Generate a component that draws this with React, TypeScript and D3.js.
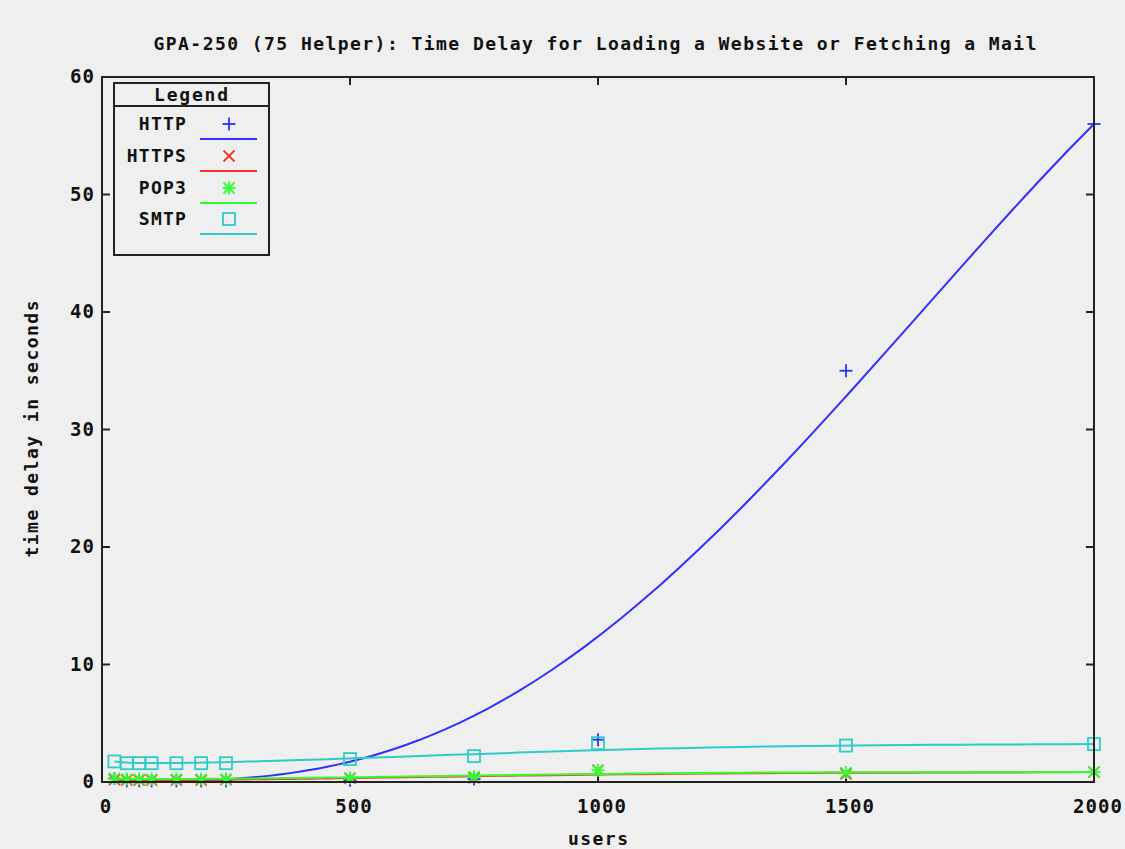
import React from "react";
import * as d3 from "d3";

const users = [25, 50, 75, 100, 150, 200, 250, 500, 750, 1000, 1500, 2000];
const httpDelay = [0.3, 0.1, 0.1, 0.1, 0.1, 0.1, 0.1, 0.15, 0.25, 3.6, 35, 56];
const httpsDelay = [0.2, 0.15, 0.15, 0.15, 0.15, 0.15, 0.2, 0.3, 0.35, 1.0, 0.7, 0.85];
const pop3Delay = [0.3, 0.25, 0.25, 0.25, 0.25, 0.25, 0.25, 0.35, 0.45, 1.0, 0.8, 0.85];
const smtpDelay = [1.75, 1.6, 1.6, 1.6, 1.6, 1.6, 1.6, 1.95, 2.2, 3.3, 3.1, 3.23];

const xTicks = [0, 500, 1000, 1500, 2000];
const yTicks = [0, 10, 20, 30, 40, 50, 60];
const seriesNames = ["HTTP", "HTTPS", "POP3", "SMTP"];
const seriesValues = [httpDelay, httpsDelay, pop3Delay, smtpDelay];
const seriesColors = ["#2f2fff", "#ff2f2f", "#2fff2f", "#2fcaca"];
const seriesSymbols = ["plus", "cross", "star", "square"];

const W = 1125;
const H = 849;
const left = 102;
const right = 1094;
const top = 77;
const bottom = 782;
const FONT = "'DejaVu Sans Mono', monospace";

const x = d3.scaleLinear().domain([0, 2000]).range([left, right]);
const y = d3.scaleLinear().domain([0, 60]).range([bottom, top]);

// gnuplot "smooth bezier": Bernstein polynomial over all data points
function bezier(xs: number[], ys: number[], samples = 100): [number, number][] {
  const n = xs.length - 1;
  const binom: number[] = [];
  for (let i = 0; i <= n; i++) {
    let c = 1;
    for (let k = 1; k <= i; k++) c = (c * (n - k + 1)) / k;
    binom.push(c);
  }
  const out: [number, number][] = [];
  for (let s = 0; s < samples; s++) {
    const t = s / (samples - 1);
    let bx = 0;
    let by = 0;
    for (let i = 0; i <= n; i++) {
      const w = binom[i] * Math.pow(t, i) * Math.pow(1 - t, n - i);
      bx += w * xs[i];
      by += w * ys[i];
    }
    out.push([bx, by]);
  }
  return out;
}

function Symbol({ kind, cx, cy, color }: { kind: string; cx: number; cy: number; color: string }) {
  const sw = 1.8;
  const a = 6.5;
  const b = 5.5;
  if (kind === "plus") {
    return (
      <g stroke={color} strokeWidth={sw}>
        <line x1={cx - a} y1={cy} x2={cx + a} y2={cy} />
        <line x1={cx} y1={cy - a} x2={cx} y2={cy + a} />
      </g>
    );
  }
  if (kind === "cross") {
    return (
      <g stroke={color} strokeWidth={sw}>
        <line x1={cx - b} y1={cy - b} x2={cx + b} y2={cy + b} />
        <line x1={cx - b} y1={cy + b} x2={cx + b} y2={cy - b} />
      </g>
    );
  }
  if (kind === "star") {
    return (
      <g stroke={color} strokeWidth={sw}>
        <line x1={cx - a} y1={cy} x2={cx + a} y2={cy} />
        <line x1={cx} y1={cy - a} x2={cx} y2={cy + a} />
        <line x1={cx - b} y1={cy - b} x2={cx + b} y2={cy + b} />
        <line x1={cx - b} y1={cy + b} x2={cx + b} y2={cy - b} />
      </g>
    );
  }
  return (
    <rect x={cx - 6} y={cy - 6} width={12} height={12} fill="none" stroke={color} strokeWidth={sw} />
  );
}

export default function App() {
  const line = d3
    .line<[number, number]>()
    .x((d) => x(d[0]))
    .y((d) => y(d[1]));

  const tickLen = 8;
  const legendRows = [124, 156, 188, 219];

  return (
    <svg
      width={W}
      height={H}
      style={{ position: "absolute", left: 0, top: 0, background: "#efefef" }}
      fontFamily={FONT}
      fontWeight="bold"
    >
      <rect x={0} y={0} width={W} height={H} fill="#efefef" />

      {/* title */}
      <text
        x={595}
        y={50}
        textAnchor="middle"
        fontSize={18}
        textLength={883}
        lengthAdjust="spacing"
        fill="#111"
      >
        GPA-250 (75 Helper): Time Delay for Loading a Website or Fetching a Mail
      </text>

      {/* ticks */}
      {xTicks.map((t) => (
        <g key={"xt" + t}>
          <line x1={x(t)} x2={x(t)} y1={bottom} y2={bottom - tickLen} stroke="#222" strokeWidth={2} />
          <line x1={x(t)} x2={x(t)} y1={top} y2={top + tickLen} stroke="#222" strokeWidth={2} />
          <text x={x(t) + 4} y={813} textAnchor="middle" fontSize={19} fill="#111" letterSpacing={1}>
            {t}
          </text>
        </g>
      ))}
      {yTicks.map((t) => (
        <g key={"yt" + t}>
          <line x1={left} x2={left + tickLen} y1={y(t)} y2={y(t)} stroke="#222" strokeWidth={2} />
          <line x1={right} x2={right - tickLen} y1={y(t)} y2={y(t)} stroke="#222" strokeWidth={2} />
          <text x={95} y={y(t) + 6} textAnchor="end" fontSize={19} fill="#111" letterSpacing={1}>
            {t}
          </text>
        </g>
      ))}

      {/* axis labels */}
      <text x={598} y={845} textAnchor="middle" fontSize={18} fill="#111" textLength={60} lengthAdjust="spacing">
        users
      </text>
      <text
        transform="translate(38,429) rotate(-90)"
        textAnchor="middle"
        fontSize={18}
        fill="#111"
        textLength={257}
        lengthAdjust="spacing"
      >
        time delay in seconds
      </text>

      {/* series */}
      {seriesValues.map((vals, si) => (
        <g key={"s" + si}>
          {users.map((u, i) => (
            <Symbol key={i} kind={seriesSymbols[si]} cx={x(u)} cy={y(vals[i])} color={seriesColors[si]} />
          ))}
          <path d={line(bezier(users, vals)) || ""} fill="none" stroke={seriesColors[si]} strokeWidth={2} />
        </g>
      ))}

      {/* border */}
      <rect x={left} y={top} width={right - left} height={bottom - top} fill="none" stroke="#222" strokeWidth={2} />

      {/* legend */}
      <rect x={114} y={83} width={155} height={172} fill="#efefef" stroke="#222" strokeWidth={2} />
      <line x1={114} x2={269} y1={106} y2={106} stroke="#222" strokeWidth={2} />
      <text x={191} y={101} textAnchor="middle" fontSize={18} fill="#111" textLength={74} lengthAdjust="spacing">
        Legend
      </text>
      {seriesNames.map((name, i) => (
        <g key={"lg" + name}>
          <text x={187} y={legendRows[i] + 6} textAnchor="end" fontSize={18} fill="#111" letterSpacing={1.2}>
            {name}
          </text>
          <Symbol kind={seriesSymbols[i]} cx={229} cy={legendRows[i]} color={seriesColors[i]} />
          <line
            x1={200}
            x2={257}
            y1={legendRows[i] + 15}
            y2={legendRows[i] + 15}
            stroke={seriesColors[i]}
            strokeWidth={2}
          />
        </g>
      ))}
    </svg>
  );
}
